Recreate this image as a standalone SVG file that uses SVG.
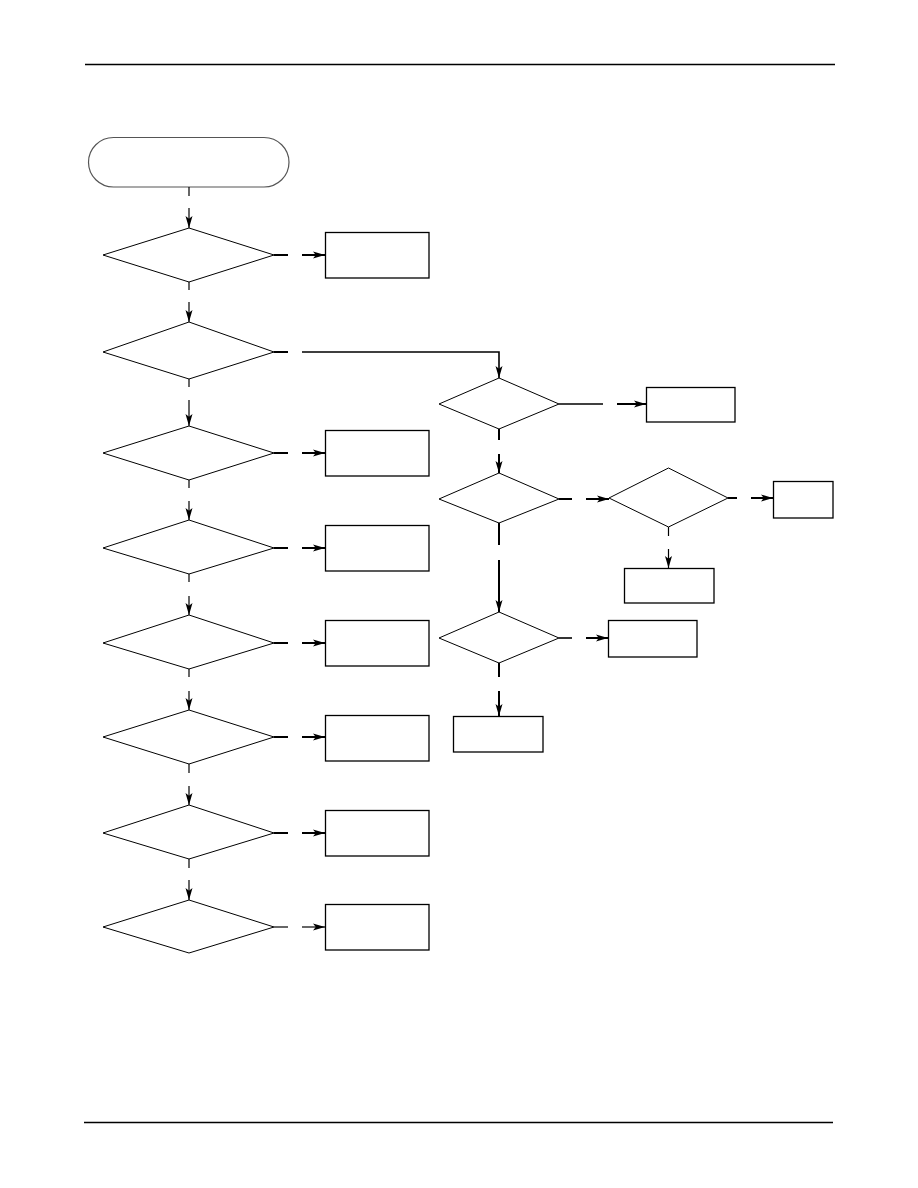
<svg xmlns="http://www.w3.org/2000/svg" width="918" height="1188" viewBox="0 0 918 1188">
<style>
.bg{fill:#fff}
.rule{stroke:#000;stroke-width:1.3;fill:none}
.term{fill:#fff;stroke:#555;stroke-width:1.2}
.dia{fill:#fff;stroke:#000;stroke-width:1}
.box{fill:#fff;stroke:#000;stroke-width:1.3}
.c{stroke:#000;stroke-width:1.2;fill:none}
.m{stroke:#000;stroke-width:1.6;fill:none}
.t{stroke:#000;stroke-width:2;fill:none}
.a{marker-end:url(#ah)}
</style>
<defs>
<marker id="ah" markerUnits="userSpaceOnUse" markerWidth="13" markerHeight="9" refX="12" refY="4.5" orient="auto">
<path d="M0,1 L12,4.5 L0,8 L2.8,4.5 z" fill="#000"/>
</marker>
</defs>
<rect class="bg" x="0" y="0" width="918" height="1188"/>
<line class="rule" x1="85" y1="64.5" x2="835" y2="64.5"/>
<line class="rule" x1="84" y1="1122.5" x2="833" y2="1122.5"/>

<g id="start"><rect class="term" x="88.5" y="137.5" width="200.5" height="49.5" rx="25" ry="25"/></g>

<g id="d1"><polygon class="dia" points="189,228 274,255 189,282 103,255"/></g>
<g id="d2"><polygon class="dia" points="189,322 274,352 189,379 103,352"/></g>
<g id="d3"><polygon class="dia" points="189,426 274,453 189,480 103,453"/></g>
<g id="d4"><polygon class="dia" points="189,520 274,548 189,574 103,548"/></g>
<g id="d5"><polygon class="dia" points="189,615 274,643 189,669 103,643"/></g>
<g id="d6"><polygon class="dia" points="189,710 274,737 189,764 103,737"/></g>
<g id="d7"><polygon class="dia" points="189,805 274,833 189,859 103,833"/></g>
<g id="d8"><polygon class="dia" points="189,900 274,927 189,953 103,927"/></g>

<g id="b1"><rect class="box" x="325.5" y="232.5" width="103.5" height="45.5"/></g>
<g id="b3"><rect class="box" x="325.5" y="430.5" width="103.5" height="45.5"/></g>
<g id="b4"><rect class="box" x="325.5" y="525.5" width="103.5" height="45.5"/></g>
<g id="b5"><rect class="box" x="325.5" y="620.5" width="103.5" height="45.5"/></g>
<g id="b6"><rect class="box" x="325.5" y="715.5" width="103.5" height="45.5"/></g>
<g id="b7"><rect class="box" x="325.5" y="810.5" width="103.5" height="45.5"/></g>
<g id="b8"><rect class="box" x="325.5" y="904.5" width="103.5" height="45.5"/></g>

<g id="dA"><polygon class="dia" points="499,378 559,404 499,429 439,404"/></g>
<g id="dB"><polygon class="dia" points="499,473 559,499 499,523 439,499"/></g>
<g id="dC"><polygon class="dia" points="668.5,468 728,498 668.5,527 609,498"/></g>
<g id="dD"><polygon class="dia" points="499,612 559,638 499,663 439,638"/></g>

<g id="bA"><rect class="box" x="646.5" y="387.5" width="88.5" height="34.5"/></g>
<g id="bC"><rect class="box" x="773.5" y="481.5" width="59.5" height="36.5"/></g>
<g id="bC2"><rect class="box" x="624.5" y="568.5" width="89.5" height="34.5"/></g>
<g id="bD"><rect class="box" x="608.5" y="620.5" width="88.5" height="36.5"/></g>
<g id="bD2"><rect class="box" x="453.5" y="716.5" width="89.5" height="35.5"/></g>

<g id="connectors">
<line class="c" x1="189" y1="187" x2="189" y2="196"/><line class="c a" x1="189" y1="208" x2="189" y2="228"/>
<line class="c" x1="189" y1="282" x2="189" y2="290"/><line class="c a" x1="189" y1="302" x2="189" y2="322"/>
<line class="c" x1="189" y1="379" x2="189" y2="387"/><line class="c a" x1="189" y1="400" x2="189" y2="426"/>
<line class="c" x1="189" y1="480" x2="189" y2="488"/><line class="c a" x1="189" y1="501" x2="189" y2="520"/>
<line class="c" x1="189" y1="574" x2="189" y2="582"/><line class="c a" x1="189" y1="596" x2="189" y2="615"/>
<line class="c" x1="189" y1="669" x2="189" y2="677"/><line class="c a" x1="189" y1="691" x2="189" y2="710"/>
<line class="c" x1="189" y1="764" x2="189" y2="773"/><line class="c a" x1="189" y1="786" x2="189" y2="805"/>
<line class="c" x1="189" y1="859" x2="189" y2="868"/><line class="c a" x1="189" y1="880" x2="189" y2="900"/>

<line class="t" x1="274" y1="255" x2="288" y2="255"/><line class="t a" x1="302" y1="255" x2="325" y2="255"/>
<line class="t" x1="274" y1="352" x2="288" y2="352"/><polyline class="m a" points="302,352 499,352 499,378"/>
<line class="t" x1="274" y1="453" x2="288" y2="453"/><line class="t a" x1="302" y1="453" x2="325" y2="453"/>
<line class="t" x1="274" y1="548" x2="288" y2="548"/><line class="t a" x1="302" y1="548" x2="325" y2="548"/>
<line class="t" x1="274" y1="643" x2="288" y2="643"/><line class="t a" x1="302" y1="643" x2="325" y2="643"/>
<line class="t" x1="274" y1="737" x2="288" y2="737"/><line class="t a" x1="302" y1="737" x2="325" y2="737"/>
<line class="t" x1="274" y1="833" x2="288" y2="833"/><line class="t a" x1="302" y1="833" x2="325" y2="833"/>
<line class="c" x1="274" y1="927" x2="288" y2="927"/><line class="c a" x1="302" y1="927" x2="325" y2="927"/>

<line class="m" x1="559" y1="404" x2="603" y2="404"/><line class="t a" x1="617" y1="404" x2="646" y2="404"/>
<line class="t" x1="499" y1="429" x2="499" y2="440"/><line class="t a" x1="499" y1="454" x2="499" y2="473"/>
<line class="t" x1="559" y1="499" x2="572" y2="499"/><line class="t a" x1="586" y1="499" x2="609" y2="499"/>
<line class="t" x1="728" y1="498" x2="737" y2="498"/><line class="t a" x1="751" y1="498" x2="773" y2="498"/>
<line class="c" x1="668.5" y1="527" x2="668.5" y2="536"/><line class="c a" x1="668.5" y1="549" x2="668.5" y2="568"/>
<line class="t" x1="499" y1="523" x2="499" y2="545"/><line class="t a" x1="499" y1="560" x2="499" y2="612"/>
<line class="m" x1="559" y1="638" x2="572" y2="638"/><line class="t a" x1="586" y1="638" x2="608" y2="638"/>
<line class="t" x1="499" y1="663" x2="499" y2="677"/><line class="t a" x1="499" y1="691" x2="499" y2="716"/>
</g>
</svg>
